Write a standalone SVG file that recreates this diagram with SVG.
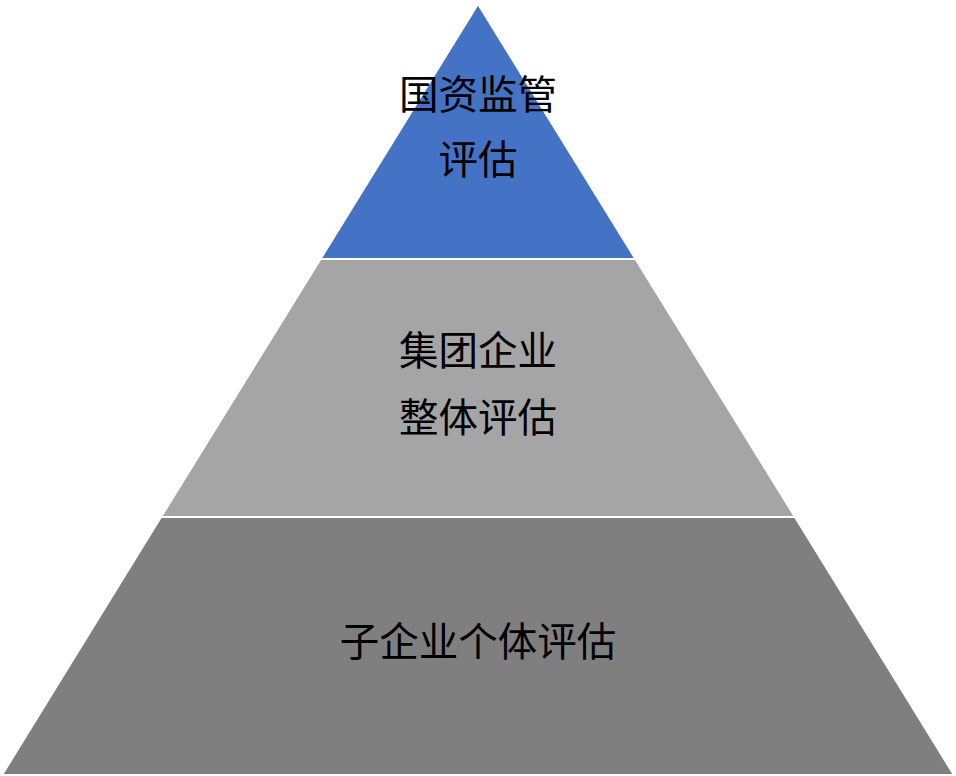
<svg xmlns="http://www.w3.org/2000/svg" width="956" height="776" viewBox="0 0 956 776">
<style>
.t{font-family:"Noto Sans CJK SC","Noto Sans",sans-serif;font-size:39.5px;fill:#000;text-anchor:middle}
</style>
<rect width="956" height="776" fill="#fff"/>
<g id="tier-top">
<polygon points="478,4 635.5,259 320.5,259" fill="#4472C4" stroke="#fff" stroke-width="2" stroke-linejoin="miter"/>
<text class="t" x="478" y="109">国资监管</text>
<text class="t" x="478" y="174">评估</text>
</g>
<g id="tier-middle">
<polygon points="320.5,259 635.5,259 795,517 161,517" fill="#A5A5A5" stroke="#fff" stroke-width="2"/>
<text class="t" x="478" y="365">集团企业</text>
<text class="t" x="478" y="432">整体评估</text>
</g>
<g id="tier-bottom">
<polygon points="161,517 795,517 954,775 2,775" fill="#7F7F7F" stroke="#fff" stroke-width="2"/>
<text class="t" x="478" y="656">子企业个体评估</text>
</g>
<g id="connectors"/>
</svg>
